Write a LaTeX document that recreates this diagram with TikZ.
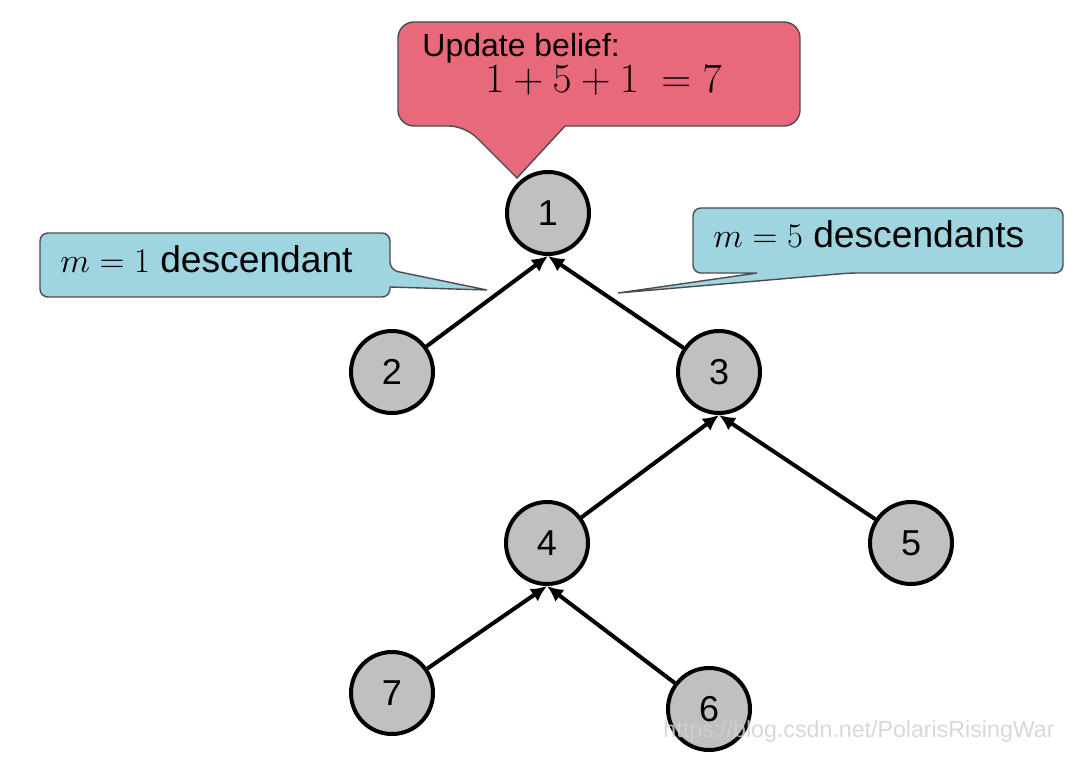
\documentclass[tikz,border=0pt]{standalone}
\usepackage{fontspec}
\setmainfont{Liberation Sans}
\usepackage{xcolor}
\usetikzlibrary{arrows.meta}

\definecolor{beliefred}{HTML}{E8697A}
\definecolor{calloutblue}{HTML}{9FD4E1}
\definecolor{nodegray}{HTML}{C0C0C0}

\begin{document}
\begin{tikzpicture}[
  x=0.5pt, y=0.5pt,
  vert/.style={circle, draw=black, line width=2pt, fill=nodegray,
               minimum size=41pt, inner sep=0pt,
               font=\fontsize{18}{20}\selectfont},
  arr/.style={-{Latex[length=8pt,width=7.5pt]}, line width=2pt},
  redbox/.style={fill=beliefred, draw=black!70, line width=0.7pt},
  bluebox/.style={fill=calloutblue, draw=black!70, line width=0.7pt},
  lbl/.style={inner sep=0pt, font=\fontsize{18.6}{21}\selectfont}]

\useasboundingbox (0,0) rectangle (1080,-765);

% callouts
\coordinate (tipred) at (517,-178);
\coordinate (tipleft) at (487,-290);
\coordinate (tipright) at (618,-293);

\draw[redbox] (tipred) -- (565,-126) [rounded corners=8pt] -- (800,-126)
  -- (800,-22) -- (398,-22) -- (398,-126) -- (465,-126) [sharp corners] -- cycle;
\draw[bluebox] (tipleft) -- (390,-287) [rounded corners=4pt] -- (390,-297)
  -- (40,-297) -- (40,-233) -- (390,-233) -- (390,-270) [sharp corners] -- cycle;
\draw[bluebox] (tipright) -- (757,-273) [rounded corners=4pt] -- (693,-273)
  -- (693,-208) -- (1063,-208) -- (1063,-273) -- (850,-273) [sharp corners] -- cycle;

\node[lbl, anchor=base west, font=\fontsize{16}{18}\selectfont] (upd) at (422,-57)
  {Update belief:};
\node[lbl, anchor=base west, font=\fontsize{19.7}{22}\selectfont] (sum) at (485,-93)
  {$1+5+1\ =7$};
\node[lbl, anchor=base west] (mone) at (60,-272) {$m=1$ descendant};
\node[lbl, anchor=base west] (mfive) at (713,-247) {$m=5$ descendants};

% tree
\node[vert] (n1) at (548,-213) {1};
\node[vert] (n2) at (392,-372) {2};
\node[vert] (n3) at (719,-372) {3};
\node[vert] (n4) at (547,-543) {4};
\node[vert] (n5) at (911,-543) {5};
\node[vert] (n7) at (392,-693) {7};
\node[vert] (n6) at (709,-709) {6};

\draw[arr] (n2) -- (n1.south);
\draw[arr] (n3) -- (n1.south);
\draw[arr] (n4) -- (n3.south);
\draw[arr] (n5) -- (n3.south);
\draw[arr] (n7) -- (n4.south);
\draw[arr] (n6) -- (n4.south);

\node[inner sep=0pt, anchor=base east, text=black!18, opacity=0.85,
      font=\fontsize{11.6}{13}\selectfont] (wm) at (1055,-737)
  {https://blog.csdn.net/PolarisRisingWar};
\end{tikzpicture}
\end{document}
